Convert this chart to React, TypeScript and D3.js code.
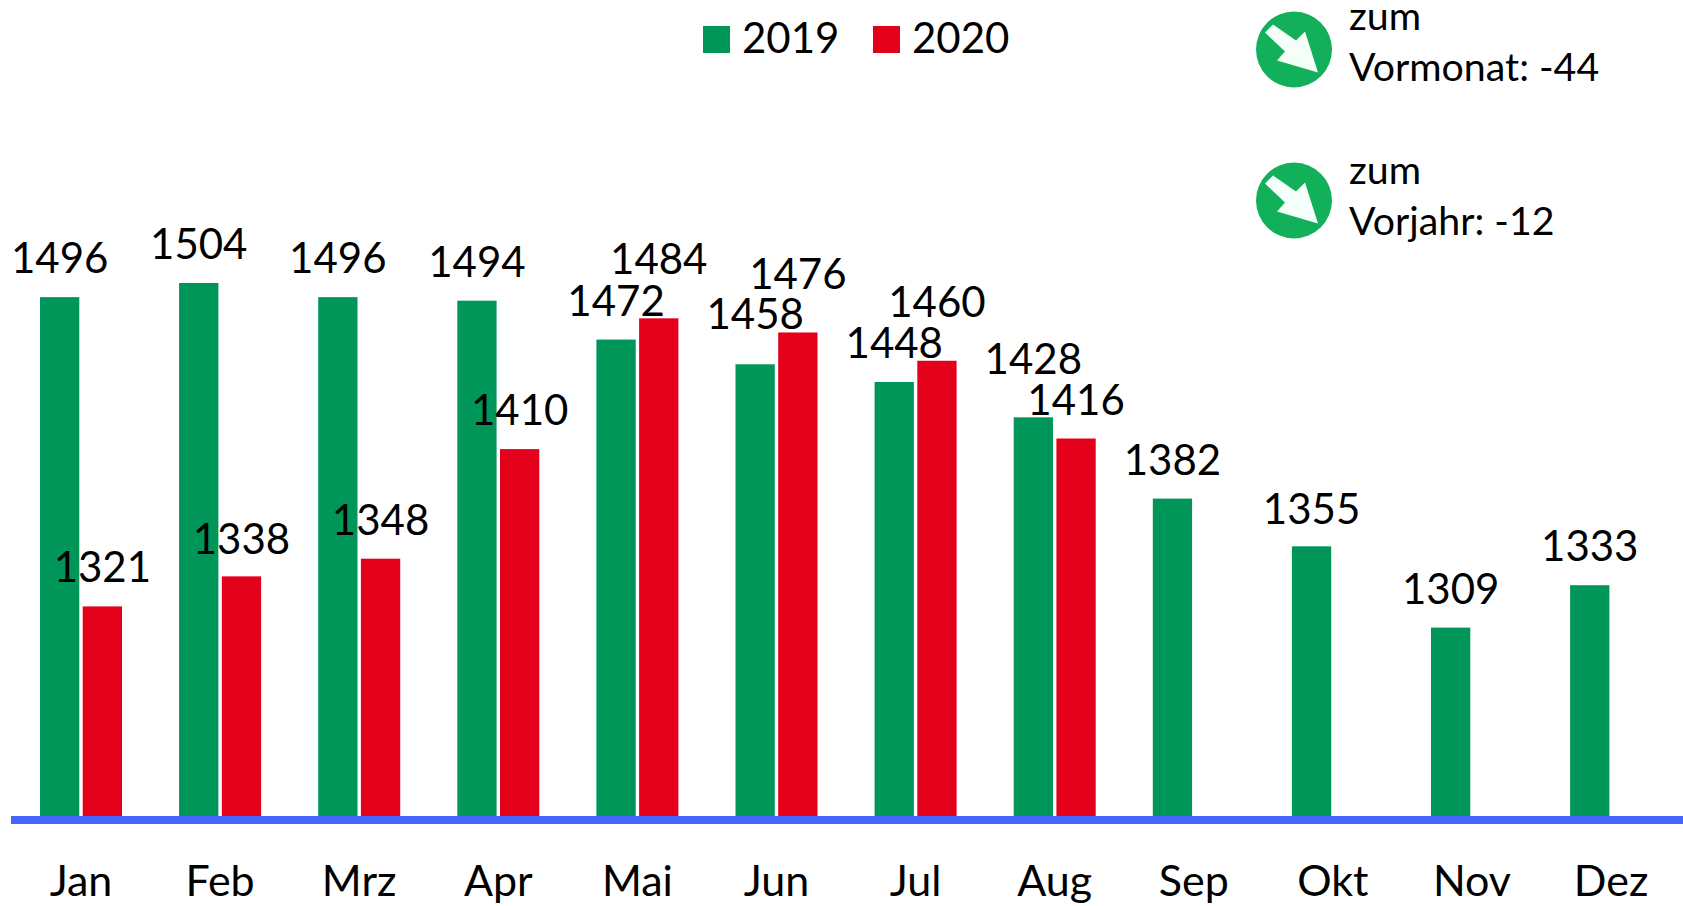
import React from "react";
import * as d3 from "d3";

const months = ["Jan", "Feb", "Mrz", "Apr", "Mai", "Jun", "Jul", "Aug", "Sep", "Okt", "Nov", "Dez"];
const seriesNames = ["2019", "2020"];
const values2019 = [1496, 1504, 1496, 1494, 1472, 1458, 1448, 1428, 1382, 1355, 1309, 1333];
const values2020 = [1321, 1338, 1348, 1410, 1484, 1476, 1460, 1416];
const seriesValues = [values2019, values2020];
const seriesColors = ["#00965A", "#E2001A"];
const notes = [
  { first: "zum", second: "Vormonat: -44" },
  { first: "zum", second: "Vorjahr: -12" },
];

const W = 1683;
const H = 906;
const FONT = "Lato, Carlito, sans-serif";
const FS = 42;
const BASE = 816;

// Hand-placed label lifts from the reference, keyed by series/month.
const labelLift: Record<string, number> = {
  "2020-Mai": 20,
  "2020-Jun": 19,
  "2020-Jul": 20,
  "2019-Aug": 19,
  "2019-Jun": 11,
  "2020-Feb": -2,
  "2019-Okt": -2,
};

const x = d3.scaleBand<string>().domain(months).range([11.45, 1680.65]);
const inner = d3.scaleBand<string>().domain(seriesNames).range([28.55, 110.55]).paddingInner(0.08);
const y = d3.scaleLinear().domain([1202.4, 1504]).range([BASE, 283]);

export default function App() {
  return (
    <svg
      width={W}
      height={H}
      viewBox={`0 0 ${W} ${H}`}
      style={{ position: "absolute", left: 0, top: 0, background: "#fff", fontFamily: FONT }}
    >
      {seriesValues.map((vals, s) => (
        <g key={seriesNames[s]}>
          {vals.map((v, i) => (
            <rect
              key={months[i]}
              x={(x(months[i]) as number) + (inner(seriesNames[s]) as number)}
              y={y(v)}
              width={inner.bandwidth()}
              height={BASE - y(v)}
              fill={seriesColors[s]}
            />
          ))}
        </g>
      ))}
      <rect x={11} y={BASE} width={W - 11} height={8} fill="#4666FF" />
      {seriesValues.map((vals, s) => (
        <g key={`l${seriesNames[s]}`} textAnchor="middle" fontSize={FS} fill="#000">
          {vals.map((v, i) => (
            <text
              key={months[i]}
              x={(x(months[i]) as number) + (inner(seriesNames[s]) as number) + inner.bandwidth() / 2}
              y={y(v) - 24 - (labelLift[`${seriesNames[s]}-${months[i]}`] || 0)}
            >
              {v}
            </text>
          ))}
        </g>
      ))}
      <g textAnchor="middle" fontSize={43} fill="#000">
        {months.map((m) => (
          <text key={m} x={(x(m) as number) + x.bandwidth() / 2} y={896}>
            {m}
          </text>
        ))}
      </g>
      {seriesNames.map((n, s) => (
        <g key={`leg${n}`} transform={`translate(${703 + s * 170},26)`}>
          <rect width={27} height={27} fill={seriesColors[s]} />
          <text x={39} y={27} fontSize={FS} fill="#000">
            {n}
          </text>
        </g>
      ))}
      {notes.map((n, i) => (
        <g key={n.second} transform={`translate(1294,${49.5 + i * 151})`}>
          <circle r={38} fill="#12B05A" />
          <path d="M-21 -25 L-29 -17 L-9 2 L-17 11 L24 23 L11 -18 L2 -9 Z" fill="#F5FFF9" />
          <text x={55} y={-20 + i * 3} fontSize={39.3} fill="#000">
            {n.first}
          </text>
          <text x={55} y={31.5 + i * 3} fontSize={39.3} fill="#000">
            {n.second}
          </text>
        </g>
      ))}
    </svg>
  );
}
